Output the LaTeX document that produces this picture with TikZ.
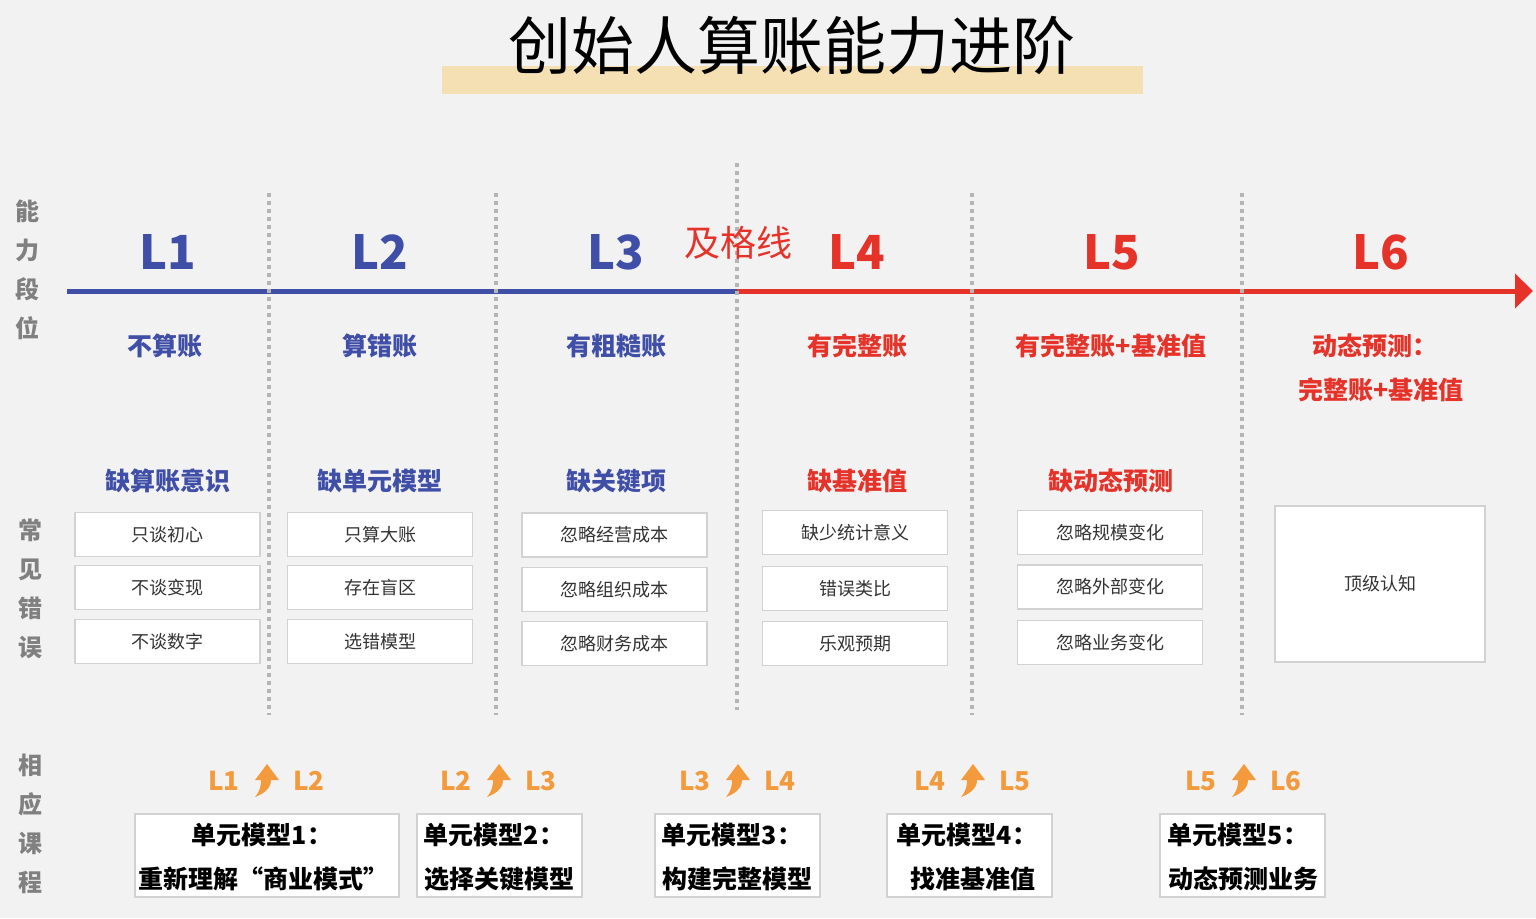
\documentclass[tikz,border=0pt]{standalone}
\usepackage{fontspec}
\setmainfont{Noto Sans CJK SC}
\usetikzlibrary{arrows.meta}
\definecolor{bg}{HTML}{F2F2F2}
\definecolor{lblue}{HTML}{3F4EA6}
\definecolor{lred}{HTML}{E5332A}
\definecolor{lorange}{HTML}{F29A3C}
\definecolor{sidegray}{HTML}{808080}
\definecolor{boxline}{HTML}{D2D2D2}
\definecolor{divgray}{HTML}{B5B5B5}
\definecolor{titlebar}{HTML}{F5E0B3}
\definecolor{errtext}{HTML}{333333}
\tikzset{
  lvl/.style={font=\bfseries\fontsize{47}{47}\selectfont, inner sep=0pt},
  desc/.style={font=\bfseries\fontsize{25}{25}\selectfont, inner sep=0pt},
  side/.style={font=\bfseries\fontsize{24}{39}\selectfont, text=sidegray, align=center, inner sep=0pt},
  errbox/.style={draw=boxline, fill=white, line width=1.3pt, text=errtext,
    font=\fontsize{18}{18}\selectfont, minimum width=185pt, minimum height=44pt, inner sep=0pt},
  coursebox/.style={draw=boxline, fill=white, line width=1.3pt, minimum height=83pt, inner sep=0pt},
  coursetext/.style={font=\bfseries\fontsize{25}{25}\selectfont, text=black, inner sep=0pt},
  steplbl/.style={font=\bfseries\fontsize{26}{26}\selectfont, text=lorange, inner sep=0pt},
  divider/.style={draw=divgray, line width=4.5pt, dash pattern=on 4pt off 4pt},
  uparrow/.pic={\fill[lorange] (1,-17) -- (13,-1) -- (5,-1) .. controls (5,8) and (-3,13) .. (-11,16) .. controls (-6,10) and (-5,5) .. (-5,-1) -- (-11,-1) -- cycle;}
}
\begin{document}
\begin{tikzpicture}[x=1pt,y=-1pt]
\fill[bg] (0,0) rectangle (1536,918);
\useasboundingbox (0,0) rectangle (1536,918);
% title
\fill[titlebar] (442,66) rectangle (1143,94);
\node[font=\fontsize{63}{63}\selectfont, inner sep=0pt] (title) at (792,46) {创始人算账能力进阶};
% side labels
\node[side] (s1) at (27,270) {能\\力\\段\\位};
\node[side] (s2) at (30,589) {常\\见\\错\\误};
\node[side] (s3) at (30,824) {相\\应\\课\\程};
% axis
\coordinate (axL) at (67,291);
\coordinate (axM) at (737,291);
\coordinate (axR) at (1533,291);
\draw[lblue, line width=5pt] (axL) -- (axM);
\draw[lred, line width=5pt, -{Triangle[length=18pt,width=34pt]}] (axM) -- (axR);
% dividers
\foreach \n/\x/\t/\b in {d1/269/193/715, d2/496/193/715, d3/737/163/710, d4/972/193/715, d5/1242/193/715}{
  \coordinate (\n top) at (\x,\t);
  \coordinate (\n bot) at (\x,\b);
  \draw[divider] (\n top) -- (\n bot);
}
% levels
\node[lvl, text=lblue] (L1) at (168,252) {L1};
\node[lvl, text=lblue] (L2) at (380,252) {L2};
\node[lvl, text=lblue] (L3) at (616,252) {L3};
\node[lvl, text=lred] (L4) at (857,252) {L4};
\node[lvl, text=lred] (L5) at (1112,252) {L5};
\node[lvl, text=lred] (L6) at (1381,252) {L6};
\node[font=\fontsize{36}{36}\selectfont, text=lred, inner sep=0pt] (pass) at (738,243) {及格线};
% descriptions
\node[desc, text=lblue] (a1) at (165,346) {不算账};
\node[desc, text=lblue] (a2) at (380,346) {算错账};
\node[desc, text=lblue] (a3) at (616,346) {有粗糙账};
\node[desc, text=lred] (a4) at (857,346) {有完整账};
\node[desc, text=lred] (a5) at (1111,346) {有完整账+基准值};
\node[desc, text=lred] (a6) at (1375,346) {动态预测：};
\node[desc, text=lred] (a6b) at (1381,390) {完整账+基准值};
% lacks
\node[desc, text=lblue] (k1) at (168,481) {缺算账意识};
\node[desc, text=lblue] (k2) at (380,481) {缺单元模型};
\node[desc, text=lblue] (k3) at (616,481) {缺关键项};
\node[desc, text=lred] (k4) at (857,481) {缺基准值};
\node[desc, text=lred] (k5) at (1111,481) {缺动态预测};
% error boxes
\node[errbox] (e11) at (167.5,534.5) {只谈初心};
\node[errbox] (e12) at (167.5,587.5) {不谈变现};
\node[errbox] (e13) at (167.5,641.5) {不谈数字};
\node[errbox] (e21) at (380,534.5) {只算大账};
\node[errbox] (e22) at (380,587.5) {存在盲区};
\node[errbox] (e23) at (380,641.5) {选错模型};
\node[errbox] (e31) at (614.5,535) {忽略经营成本};
\node[errbox] (e32) at (614.5,589.5) {忽略组织成本};
\node[errbox] (e33) at (614.5,643.5) {忽略财务成本};
\node[errbox] (e41) at (855,532.5) {缺少统计意义};
\node[errbox] (e42) at (855,588.5) {错误类比};
\node[errbox] (e43) at (855,643.5) {乐观预期};
\node[errbox] (e51) at (1110,532.5) {忽略规模变化};
\node[errbox] (e52) at (1110,587) {忽略外部变化};
\node[errbox] (e53) at (1110,642.5) {忽略业务变化};
\node[errbox, minimum width=210pt, minimum height=156pt] (e6) at (1380,584) {顶级认知};
% step labels
\foreach \n/\a/\b/\x in {t1/L1/L2/266, t2/L2/L3/498, t3/L3/L4/737, t4/L4/L5/972, t5/L5/L6/1243}{
  \node[steplbl] (\n a) at (\x-42,781) {\a};
  \node[steplbl] (\n b) at (\x+43,781) {\b};
  \pic at (\x,781) {uparrow};
}
% course boxes
\node[coursebox, minimum width=264pt] (c1) at (267,855.5) {};
\node[coursebox, minimum width=165pt] (c2) at (499.5,855.5) {};
\node[coursebox, minimum width=165pt] (c3) at (737.5,855.5) {};
\node[coursebox, minimum width=165pt] (c4) at (969.5,855.5) {};
\node[coursebox, minimum width=165pt] (c5) at (1242.5,855.5) {};
\node[coursetext] (c1a) at (262,835) {单元模型1：};
\node[coursetext] (c1b) at (263,879) {重新理解“商业模式”};
\node[coursetext] (c2a) at (494,835) {单元模型2：};
\node[coursetext] (c2b) at (499,879) {选择关键模型};
\node[coursetext] (c3a) at (732,835) {单元模型3：};
\node[coursetext] (c3b) at (737,879) {构建完整模型};
\node[coursetext] (c4a) at (967,835) {单元模型4：};
\node[coursetext] (c4b) at (973,879) {找准基准值};
\node[coursetext] (c5a) at (1238,835) {单元模型5：};
\node[coursetext] (c5b) at (1243,879) {动态预测业务};
\end{tikzpicture}
\end{document}
